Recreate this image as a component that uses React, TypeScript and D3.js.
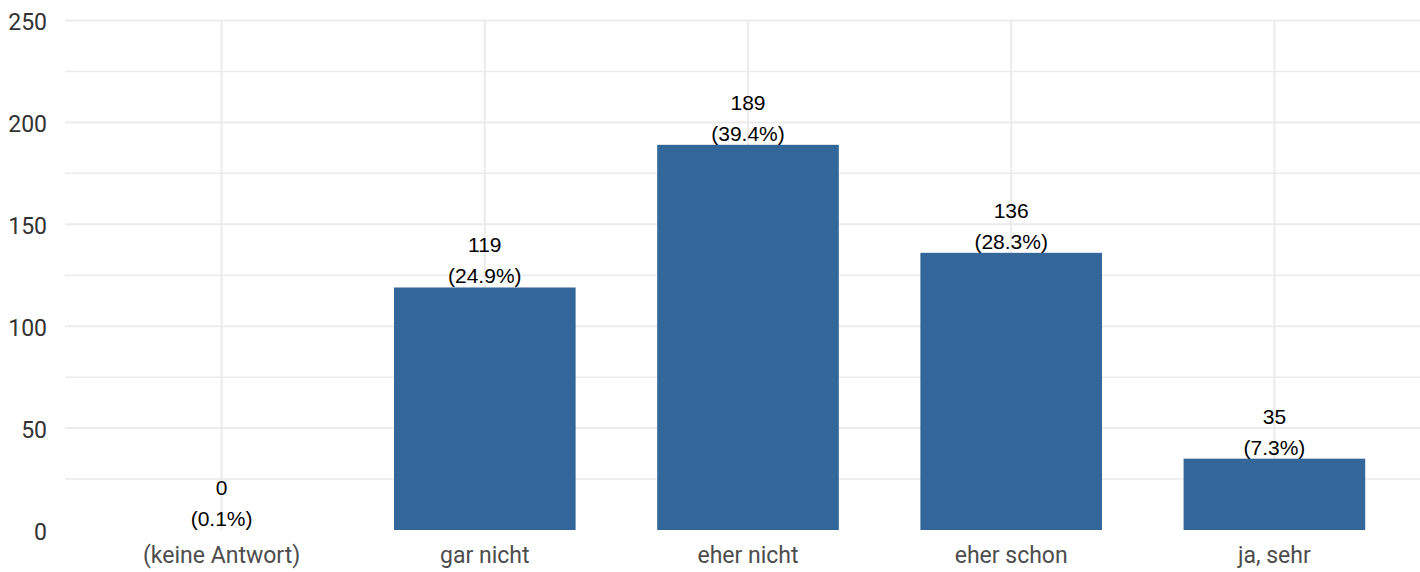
import { useEffect } from 'react';
import * as d3 from 'd3';

// Answer categories and counts
const categories = ['(keine Antwort)', 'gar nicht', 'eher nicht', 'eher schon', 'ja, sehr'];
const counts = [0, 119, 189, 136, 35];
const percents = ['0.1%', '24.9%', '39.4%', '28.3%', '7.3%'];
const yTicks = [0, 50, 100, 150, 200, 250];
const yMinorTicks = [25, 75, 125, 175, 225];

const WIDTH = 1420;
const HEIGHT = 572;

const COLORS = {
  bar: '#336699',
  grid: '#ebebeb',
  yText: '#333333',
  xText: '#4d4d4d',
  label: '#000000',
};

export default function App() {
  useEffect(() => {
    document.body.style.margin = '0';
  }, []);

  const panel = { left: 65, right: 1431, top: 20.5, bottom: 530 };

  const x = d3.scaleBand<string>()
    .domain(categories)
    .range([panel.left, panel.right])
    .paddingInner(0.31)
    .paddingOuter(0.25);

  const y = d3.scaleLinear()
    .domain([0, 250])
    .range([panel.bottom, panel.top]);

  const bw = x.bandwidth();

  return (
    <svg width={WIDTH} height={HEIGHT} style={{ display: 'block', background: '#fff' }}>
      {/* minor grid */}
      {yMinorTicks.map((t) => (
        <line key={`mn${t}`} x1={panel.left} x2={WIDTH} y1={y(t)} y2={y(t)}
          stroke={COLORS.grid} strokeWidth={1.5} />
      ))}
      {/* major grid */}
      {yTicks.filter((t) => t > 0).map((t) => (
        <line key={`mj${t}`} x1={panel.left} x2={WIDTH} y1={y(t)} y2={y(t)}
          stroke={COLORS.grid} strokeWidth={2} />
      ))}
      {categories.map((c) => (
        <line key={`vg${c}`} x1={x(c)! + bw / 2} x2={x(c)! + bw / 2} y1={panel.top} y2={panel.bottom}
          stroke={COLORS.grid} strokeWidth={2} />
      ))}

      {/* bars */}
      {categories.map((c, i) => (
        <rect key={`b${c}`} x={x(c)} y={y(counts[i])} width={bw}
          height={y(0) - y(counts[i])} fill={COLORS.bar} />
      ))}

      {/* bar labels */}
      {categories.map((c, i) => {
        const cx = x(c)! + bw / 2;
        const top = y(counts[i]);
        return (
          <g key={`l${c}`} fontFamily="'Liberation Sans', Arial, sans-serif" fontSize={21}
            fill={COLORS.label} textAnchor="middle">
            <text x={cx} y={top - 35}>{counts[i]}</text>
            <text x={cx} y={top - 4}>({percents[i]})</text>
          </g>
        );
      })}

      {/* y axis labels */}
      {yTicks.map((t) => (
        <text key={`yt${t}`} x={47} y={y(t)} dy="0.42em" textAnchor="end"
          fontFamily="Roboto, sans-serif" fontSize={23} fill={COLORS.yText}>
          {t}
        </text>
      ))}

      {/* x axis labels */}
      {categories.map((c) => (
        <text key={`xt${c}`} x={x(c)! + bw / 2} y={panel.bottom + 33} textAnchor="middle"
          fontFamily="Roboto, sans-serif" fontSize={23} fill={COLORS.xText}>
          {c}
        </text>
      ))}
    </svg>
  );
}
